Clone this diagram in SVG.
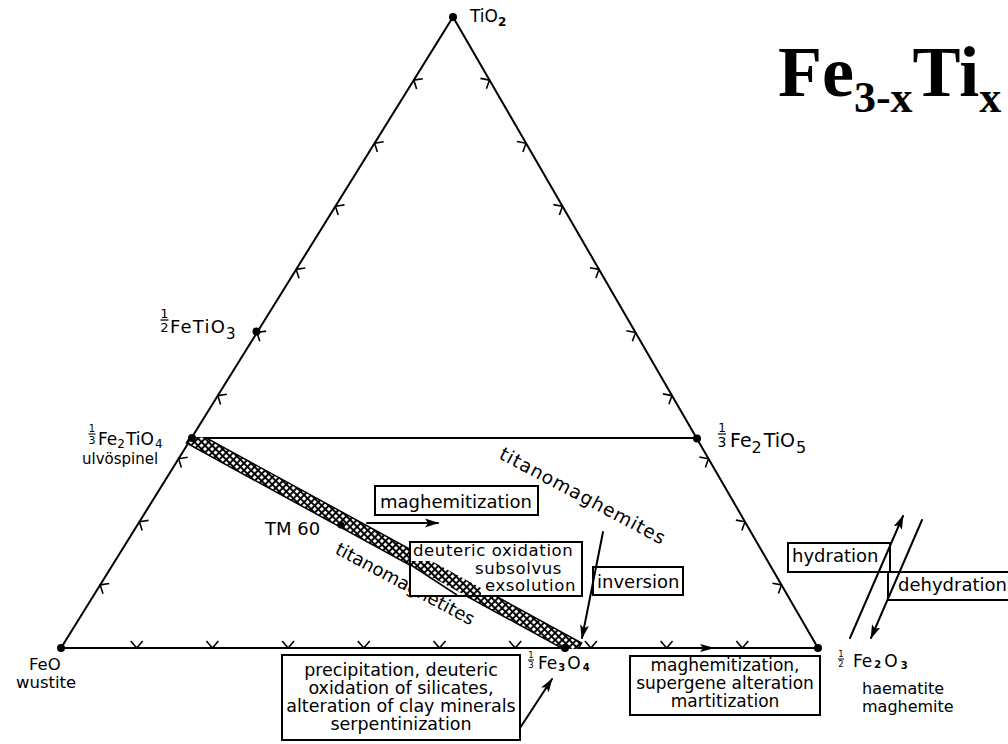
<svg xmlns="http://www.w3.org/2000/svg" width="1008" height="744" viewBox="0 0 1008 744">
<style>
.ln{stroke:#000;stroke-width:2;fill:none;stroke-linecap:round}
.tk{stroke:#000;stroke-width:1.6;fill:none;stroke-linejoin:round}
.box{fill:#fff;stroke:#000;stroke-width:2}
.t{font-family:"DejaVu Sans","Noto Sans",sans-serif;fill:#000}
.dot{fill:#000}
.title{font-family:"Liberation Serif","Times New Roman",serif;font-weight:bold;fill:#000}
</style>
<defs>
<marker id="ah" markerWidth="14" markerHeight="10" refX="13" refY="5" orient="auto" markerUnits="userSpaceOnUse"><path d="M0,0.5 L14,5 L0,9.5 L3,5 z" fill="#000"/></marker>
<pattern id="hatch" width="5" height="5" patternUnits="userSpaceOnUse" patternTransform="rotate(45)"><rect width="5" height="5" fill="#000"/><rect x="1" y="1" width="3.1" height="3.1" fill="#fff"/></pattern>
<clipPath id="bandclip"><rect x="150" y="437.5" width="500" height="211.5"/></clipPath>
<clipPath id="boxclip"><rect x="411" y="561" width="70" height="34"/></clipPath>
</defs>
<rect width="1008" height="744" fill="#fff"/>

<g id="title">
<text class="title" x="778" y="96" font-size="72">Fe<tspan font-size="44" dy="16">3-x</tspan><tspan dy="-16">Ti</tspan><tspan font-size="44" dy="16">x</tspan></text>
</g>

<g id="triangle">
<path class="ln" d="M61,648 L453,17 L818,648 Z"/>
<line class="ln" x1="192" y1="438" x2="697" y2="438"/>
<path class="tk" d="M130.7,641 L136.7,648 L142.7,641 M206.4,641 L212.4,648 L218.4,641 M282.1,641 L288.1,648 L294.1,641 M357.8,641 L363.8,648 L369.8,641 M433.5,641 L439.5,648 L445.5,641 M509.2,641 L515.2,648 L521.2,641 M584.9,641 L590.9,648 L596.9,641 M660.6,641 L666.6,648 L672.6,641 M736.3,641 L742.3,648 L748.3,641"/>
<path class="tk" d="M109.3,583.5 L100.2,584.9 L103,593.7 M148.5,520.4 L139.4,521.8 L142.2,530.6 M187.7,457.3 L178.6,458.7 L181.4,467.5 M226.9,394.2 L217.8,395.6 L220.6,404.4 M266.1,331.1 L257,332.5 L259.8,341.3 M305.3,268 L296.2,269.4 L299,278.2 M344.5,204.9 L335.4,206.3 L338.2,215.1 M383.7,141.8 L374.6,143.2 L377.4,152 M422.9,78.7 L413.8,80.1 L416.6,88.9"/>
<path class="tk" d="M772.4,583.2 L781.5,584.9 L778.4,593.6 M735.9,520.1 L745,521.8 L741.9,530.5 M699.4,457 L708.5,458.7 L705.4,467.4 M662.9,393.9 L672,395.6 L668.9,404.3 M626.4,330.8 L635.5,332.5 L632.4,341.2 M589.9,267.7 L599,269.4 L595.9,278.1 M553.4,204.6 L562.5,206.3 L559.4,215 M516.9,141.5 L526,143.2 L522.9,151.9 M480.4,78.4 L489.5,80.1 L486.4,88.8"/>
</g>

<g id="band">
<polygon points="193.6,431 581.6,643 574.4,655 186.4,443" fill="url(#hatch)" stroke="#000" stroke-width="1.5" clip-path="url(#bandclip)"/>
</g>

<g id="node-TiO2">
<circle class="dot" cx="453" cy="17" r="4"/>
<text class="t" x="470" y="22" font-size="17">TiO<tspan font-size="12" dy="4" font-weight="bold">2</tspan></text>
</g>

<g id="node-FeTiO3">
<circle class="dot" cx="256.5" cy="331.5" r="4"/>
<text class="t" x="164.5" y="318" font-size="13" text-anchor="middle">1</text>
<line x1="160.5" y1="320" x2="168.5" y2="320" stroke="#000" stroke-width="1.3"/>
<text class="t" x="164.5" y="332" font-size="13" text-anchor="middle">2</text>
<text class="t" x="170" y="333" font-size="18" letter-spacing="1.2">FeTiO<tspan font-size="15" dy="6" letter-spacing="0">3</tspan></text>
</g>

<g id="node-Fe2TiO4">
<circle class="dot" cx="192" cy="438" r="4"/>
<text class="t" x="92" y="432" font-size="10" text-anchor="middle">1</text>
<line x1="88.5" y1="434" x2="95.5" y2="434" stroke="#000" stroke-width="1.1"/>
<text class="t" x="92" y="444" font-size="11" text-anchor="middle">3</text>
<text class="t" x="98" y="445" font-size="17">Fe<tspan font-size="12" dy="3">2</tspan><tspan dy="-3" dx="1">TiO</tspan><tspan font-size="12" dy="3" dx="1">4</tspan></text>
<text class="t" x="82" y="464" font-size="15">ulvöspinel</text>
</g>

<g id="node-Fe2TiO5">
<circle class="dot" cx="697" cy="438.5" r="4"/>
<text class="t" x="722" y="432" font-size="12" text-anchor="middle">1</text>
<line x1="718" y1="434" x2="726" y2="434" stroke="#000" stroke-width="1.2"/>
<text class="t" x="722" y="447" font-size="14" text-anchor="middle">3</text>
<text class="t" x="730" y="447" font-size="19">Fe<tspan font-size="16" dy="6">2</tspan><tspan dy="-6" dx="2">TiO</tspan><tspan font-size="16" dy="6" dx="1">5</tspan></text>
</g>

<g id="node-FeO">
<circle class="dot" cx="61" cy="648" r="4"/>
<text class="t" x="29" y="670" font-size="16.5">FeO</text>
<text class="t" x="16" y="688" font-size="16.5">wustite</text>
</g>

<g id="node-Fe3O4">
<circle class="dot" cx="565" cy="648" r="4"/>
<text class="t" x="531" y="658" font-size="8.5" text-anchor="middle">1</text>
<line x1="528" y1="660" x2="534" y2="660" stroke="#000" stroke-width="1"/>
<text class="t" x="531" y="668" font-size="8.5" text-anchor="middle">3</text>
<text class="t" x="538" y="669" font-size="17">Fe<tspan font-size="10" dy="2" dx="1" font-weight="bold">3</tspan><tspan dy="-2" dx="2">O</tspan><tspan font-size="10" dy="2" dx="2" font-weight="bold">4</tspan></text>
</g>

<g id="node-Fe2O3">
<circle class="dot" cx="818" cy="648" r="4"/>
<text class="t" x="841" y="657" font-size="8.5" text-anchor="middle">1</text>
<line x1="838" y1="659" x2="844" y2="659" stroke="#000" stroke-width="1"/>
<text class="t" x="841" y="667" font-size="8.5" text-anchor="middle">2</text>
<text class="t" x="853" y="667" font-size="17">Fe<tspan font-size="10" dy="1" dx="2" font-weight="bold">2</tspan><tspan dy="-1" dx="3">O</tspan><tspan font-size="10" dy="2" dx="3" font-weight="bold">3</tspan></text>
<text class="t" x="862" y="694" font-size="16">haematite</text>
<text class="t" x="862" y="712" font-size="16">maghemite</text>
</g>

<g id="node-TM60">
<circle class="dot" cx="341" cy="525" r="3.5"/>
<text class="t" x="265" y="535" font-size="18">TM 60</text>
</g>

<g id="label-titanomaghemites">
<text class="t" font-size="18.5" letter-spacing="1" transform="translate(498,458) rotate(28)">titanomaghemites</text>
</g>
<g id="label-titanomagnetites">
<text class="t" font-size="18" transform="translate(334,553) rotate(28)">titanomagnetites</text>
</g>

<g id="node-maghemitization">
<rect class="box" x="375" y="486" width="163" height="29"/>
<text class="t" x="380" y="508" font-size="18">maghemitization</text>
</g>

<g id="node-deuteric">
<rect class="box" x="410" y="542" width="172" height="54"/>
<polygon points="193.6,431 581.6,643 574.4,655 186.4,443" fill="url(#hatch)" clip-path="url(#boxclip)"/>
<line x1="411" y1="565" x2="457" y2="595" stroke="#000" stroke-width="1.5"/>
<text class="t" x="413" y="556" font-size="16.5" letter-spacing="0.6">deuteric oxidation</text>
<text class="t" x="475" y="573.5" font-size="16.5" letter-spacing="0.6">subsolvus</text>
<text class="t" x="485" y="591" font-size="16.5" letter-spacing="0.6">exsolution</text>
</g>

<g id="node-inversion">
<rect class="box" x="593" y="567" width="90" height="28"/>
<text class="t" x="597" y="588" font-size="18">inversion</text>
</g>

<g id="node-precipitation">
<rect class="box" x="282" y="655" width="238" height="85"/>
<text class="t" x="401" y="676" font-size="17.5" text-anchor="middle">precipitation, deuteric</text>
<text class="t" x="401" y="694" font-size="17.5" text-anchor="middle">oxidation of silicates,</text>
<text class="t" x="401" y="712" font-size="17.5" text-anchor="middle">alteration of clay minerals</text>
<text class="t" x="401" y="730" font-size="17.5" text-anchor="middle">serpentinization</text>
</g>

<g id="node-supergene">
<rect class="box" x="630" y="656" width="190" height="59"/>
<text class="t" x="725" y="671" font-size="17" text-anchor="middle">maghemitization,</text>
<text class="t" x="725" y="689" font-size="17" text-anchor="middle">supergene alteration</text>
<text class="t" x="725" y="707" font-size="17" text-anchor="middle">martitization</text>
</g>

<g id="node-hydration">
<rect class="box" x="788" y="543" width="102" height="29"/>
<text class="t" x="792" y="562" font-size="18">hydration</text>
</g>

<g id="node-dehydration">
<rect class="box" x="888" y="572" width="130" height="28"/>
<text class="t" x="898" y="591" font-size="18">dehydration</text>
</g>

<g id="connectors">
<line class="ln" x1="367" y1="523" x2="438" y2="523" marker-end="url(#ah)"/>
<line class="ln" x1="603" y1="532" x2="582" y2="638" marker-end="url(#ah)"/>
<path d="M715,648 L700,644 L703,648 L700,652 Z" fill="#000"/>
<line class="ln" x1="520" y1="728" x2="552" y2="679" marker-end="url(#ah)"/>
<line class="ln" x1="850" y1="638" x2="903" y2="516" marker-end="url(#ah)"/>
<line class="ln" x1="922" y1="520" x2="871" y2="638" marker-end="url(#ah)"/>
</g>
</svg>
